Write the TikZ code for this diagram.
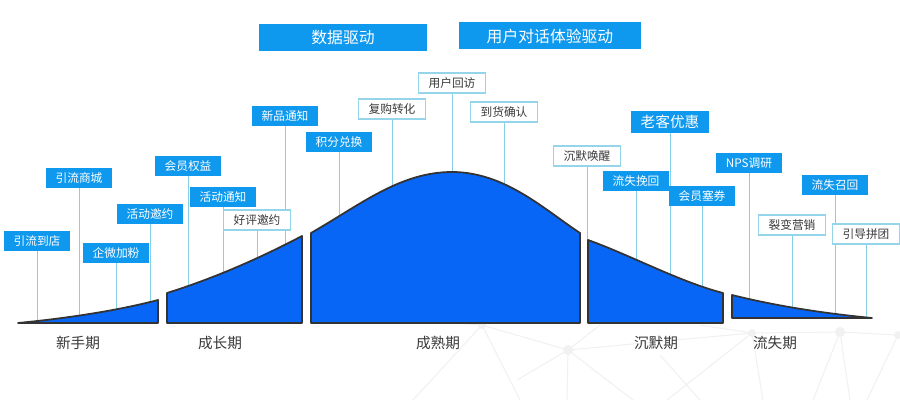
\documentclass[tikz,border=0pt]{standalone}
\usepackage{fontspec}
\setmainfont{Noto Sans CJK SC}
\usepackage{xcolor}
\usepackage{tikz}
\usetikzlibrary{positioning}
\definecolor{tagblue}{HTML}{0E98EE}
\definecolor{humpblue}{HTML}{0766F6}
\definecolor{edgegray}{HTML}{333333}
\definecolor{stemcyan}{HTML}{86CFE6}
\definecolor{tagline}{HTML}{94D5E9}
\definecolor{textgray}{HTML}{3A3A3A}
\definecolor{netgray}{HTML}{F1F1F1}
\pgfdeclarelayer{bg}
\pgfsetlayers{bg,main}

\begin{document}
\begin{tikzpicture}[x=0.03cm, y=-0.03cm,
    tagb/.style={rectangle, fill=tagblue, text=white, inner xsep=8.5pt, inner ysep=0pt, minimum height=0.6cm, font=\fontsize{10}{12}\selectfont},
    tagw/.style={rectangle, draw=tagline, line width=1.1pt, fill=white, text=textgray, inner xsep=8.5pt, inner ysep=0pt, minimum height=0.6cm, font=\fontsize{10}{12}\selectfont},
    head/.style={rectangle, fill=tagblue, text=white, minimum height=0.81cm, font=\fontsize{13.5}{16}\selectfont},
    stem/.style={draw=stemcyan, line width=0.8pt},
    hump/.style={fill=humpblue, draw=edgegray, line width=1.5pt, line join=round},
    phase/.style={text=textgray, font=\fontsize{12.5}{15}\selectfont},
    net/.style={draw=netgray, line width=0.9pt}
]
    \useasboundingbox (0,0) rectangle (900,400);

    \draw[hump] (18,323) .. controls (70,318) and (120,310) .. (158,300) -- (158,323) -- cycle;
    \draw[hump] (167,323) -- (167,293) .. controls (215,278) and (260,258) .. (302,236) -- (302,323) -- cycle;
    \draw[hump] (311,323) -- (311,233) .. controls (360,205) and (400,172) .. (452,172) .. controls (505,172) and (545,210) .. (580,233) -- (580,323) -- cycle;
    \draw[hump] (588,323) -- (588,240) .. controls (630,255) and (680,282) .. (723,293) -- (723,323) -- cycle;
    \draw[hump] (732,318) -- (732,295) .. controls (780,307) and (830,314) .. (872,318) -- cycle;

    \node[head, minimum width=5.04cm] (datadrv) at (343,38) {数据驱动};
    \node[head, minimum width=5.46cm] (talkdrv) at (550,36) {用户对话体验驱动};

    \node[tagb] (store) at (37,241) {引流到店};
    \node[tagb] (mall) at (79,178) {引流商城};
    \node[tagb] (invite) at (150,214) {活动邀约};
    \node[tagb] (wecom) at (116,253) {企微加粉};
    \node[tagb] (perks) at (188,166) {会员权益};
    \node[tagb] (notice) at (223,197) {活动通知};
    \node[tagw] (review) at (257,220) {好评邀约};
    \node[tagb] (launch) at (285,116) {新品通知};
    \node[tagb] (points) at (339,142) {积分兑换};
    \node[tagw] (rebuy) at (392,109) {复购转化};
    \node[tagw] (visit) at (452,83) {用户回访};
    \node[tagw] (receipt) at (504,112) {到货确认};
    \node[tagw] (wake) at (587,156) {沉默唤醒};
    \node[tagb, minimum height=0.66cm, font=\fontsize{12.5}{15}\selectfont] (vip) at (670,122) {老客优惠};
    \node[tagb] (winback) at (636,181) {流失挽回};
    \node[tagb] (coupon) at (702,196) {会员塞券};
    \node[tagb] (nps) at (749,163) {NPS调研};
    \node[tagw] (fission) at (792,225) {裂变营销};
    \node[tagb] (recall) at (835,185) {流失召回};
    \node[tagw] (group) at (866,234) {引导拼团};

    \node[phase] (newbie) at (78,343) {新手期};
    \node[phase] (grow) at (220,343) {成长期};
    \node[phase] (mature) at (438,343) {成熟期};
    \node[phase] (silent) at (656,343) {沉默期};
    \node[phase] (lost) at (775,343) {流失期};

    \coordinate (store-e) at (37,323);
    \coordinate (mall-e) at (79,317);
    \coordinate (wecom-e) at (116,312);
    \coordinate (invite-e) at (150,305);
    \coordinate (perks-e) at (188,290);
    \coordinate (notice-e) at (223,276);
    \coordinate (review-e) at (257,262);
    \coordinate (launch-e) at (285,250);
    \coordinate (points-e) at (339,220);
    \coordinate (rebuy-e) at (392,190);
    \coordinate (visit-e) at (452,176);
    \coordinate (receipt-e) at (504,192);
    \coordinate (wake-e) at (587,243);
    \coordinate (winback-e) at (636,261);
    \coordinate (vip-e) at (670,276);
    \coordinate (coupon-e) at (702,287);
    \coordinate (nps-e) at (749,302);
    \coordinate (fission-e) at (792,310);
    \coordinate (recall-e) at (835,315);
    \coordinate (group-e) at (866,318);

    \coordinate (n1) at (482,325);
    \coordinate (n2) at (568,350);
    \coordinate (n3) at (752,333);
    \coordinate (n4) at (840,332);
    \coordinate (n5) at (898,335);

    \begin{pgfonlayer}{bg}
        \fill[white] (0,0) rectangle (900,400);
        \draw[net] (n1) -- (n2) -- (n3) -- (n4) -- (n5);
        \draw[net] (n1) -- (413,400);
        \draw[net] (n1) -- (520,400);
        \draw[net] (n1) -- (380,318);
        \draw[net] (n2) -- (517,380);
        \draw[net] (n2) -- (567,400);
        \draw[net] (n2) -- (633,400);
        \draw[net] (n2) -- (600,325);
        \draw[net] (n3) -- (667,400);
        \draw[net] (n3) -- (763,400);
        \draw[net] (n3) -- (700,325);
        \draw[net] (n4) -- (813,400);
        \draw[net] (n4) -- (850,400);
        \draw[net] (n5) -- (867,400);
        \draw[net] (660,355) -- (700,400);
        \fill[netgray] (n1) circle (4) (n2) circle (5) (n3) circle (4) (n4) circle (5) (n5) circle (4);

        \draw[stem] (store) -- (store-e);
        \draw[stem] (mall) -- (mall-e);
        \draw[stem] (wecom) -- (wecom-e);
        \draw[stem] (invite) -- (invite-e);
        \draw[stem] (perks) -- (perks-e);
        \draw[stem] (notice) -- (notice-e);
        \draw[stem] (review) -- (review-e);
        \draw[stem] (launch) -- (launch-e);
        \draw[stem] (points) -- (points-e);
        \draw[stem] (rebuy) -- (rebuy-e);
        \draw[stem] (visit) -- (visit-e);
        \draw[stem] (receipt) -- (receipt-e);
        \draw[stem] (wake) -- (wake-e);
        \draw[stem] (winback) -- (winback-e);
        \draw[stem] (vip) -- (vip-e);
        \draw[stem] (coupon) -- (coupon-e);
        \draw[stem] (nps) -- (nps-e);
        \draw[stem] (fission) -- (fission-e);
        \draw[stem] (recall) -- (recall-e);
        \draw[stem] (group) -- (group-e);
    \end{pgfonlayer}
\end{tikzpicture}
\end{document}
